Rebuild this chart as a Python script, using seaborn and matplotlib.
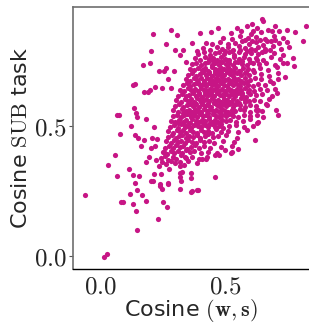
import numpy as np
import pandas as pd
import matplotlib
matplotlib.use("Agg")
import matplotlib.pyplot as plt
import seaborn as sns

# dense core of the cloud
core_x = [
    0.248, 0.262, 0.281, 0.297, 0.318, 0.335, 0.352, 0.386,
    0.243, 0.258, 0.271, 0.289, 0.304, 0.322, 0.341, 0.366, 0.395, 0.428,
    0.252, 0.268, 0.283, 0.296, 0.311, 0.327, 0.344, 0.358, 0.377, 0.402, 0.431, 0.468,
    0.258, 0.274, 0.290, 0.303, 0.317, 0.332, 0.346, 0.362, 0.379, 0.395, 0.414, 0.441, 0.486, 0.527,
    0.264, 0.281, 0.295, 0.309, 0.323, 0.338, 0.351, 0.367, 0.383, 0.398, 0.416, 0.434, 0.457, 0.492, 0.536,
    0.270, 0.286, 0.301, 0.314, 0.327, 0.341, 0.356, 0.371, 0.386, 0.401, 0.418, 0.433, 0.451, 0.472, 0.505, 0.548,
    0.272, 0.290, 0.305, 0.318, 0.332, 0.345, 0.359, 0.373, 0.388, 0.402, 0.416, 0.431, 0.447, 0.464, 0.483, 0.511, 0.552, 0.588,
    0.279, 0.296, 0.311, 0.324, 0.337, 0.350, 0.363, 0.377, 0.390, 0.404, 0.418, 0.432, 0.446, 0.461, 0.477, 0.494, 0.516, 0.543, 0.577, 0.612,
    0.283, 0.300, 0.316, 0.330, 0.343, 0.356, 0.369, 0.382, 0.395, 0.408, 0.421, 0.434, 0.447, 0.460, 0.474, 0.488, 0.503, 0.521, 0.545, 0.572, 0.603, 0.635,
    0.289, 0.305, 0.321, 0.336, 0.349, 0.362, 0.374, 0.387, 0.399, 0.412, 0.425, 0.437, 0.450, 0.463, 0.476, 0.489, 0.503, 0.518, 0.534, 0.553, 0.576, 0.602, 0.628, 0.655,
    0.292, 0.310, 0.327, 0.341, 0.354, 0.367, 0.379, 0.391, 0.403, 0.415, 0.427, 0.439, 0.451, 0.463, 0.475, 0.487, 0.500, 0.513, 0.527, 0.542, 0.559, 0.578, 0.600, 0.624, 0.651,
    0.298, 0.315, 0.331, 0.346, 0.359, 0.372, 0.384, 0.396, 0.408, 0.420, 0.432, 0.444, 0.456, 0.468, 0.480, 0.492, 0.504, 0.517, 0.531, 0.546, 0.562, 0.580, 0.601, 0.626, 0.664,
    0.303, 0.321, 0.337, 0.351, 0.364, 0.377, 0.389, 0.401, 0.413, 0.425, 0.437, 0.449, 0.461, 0.473, 0.485, 0.497, 0.509, 0.521, 0.534, 0.548, 0.563, 0.579, 0.597, 0.618, 0.642, 0.678,
    0.309, 0.327, 0.343, 0.357, 0.370, 0.383, 0.395, 0.407, 0.419, 0.431, 0.443, 0.455, 0.467, 0.479, 0.491, 0.503, 0.515, 0.527, 0.540, 0.554, 0.569, 0.585, 0.603, 0.624, 0.650, 0.688,
    0.318, 0.336, 0.351, 0.365, 0.378, 0.391, 0.403, 0.415, 0.427, 0.439, 0.451, 0.463, 0.475, 0.487, 0.499, 0.511, 0.523, 0.536, 0.550, 0.565, 0.581, 0.598, 0.617, 0.640, 0.668, 0.702,
    0.329, 0.346, 0.361, 0.375, 0.388, 0.401, 0.413, 0.425, 0.437, 0.449, 0.461, 0.473, 0.485, 0.497, 0.509, 0.521, 0.534, 0.547, 0.561, 0.576, 0.593, 0.612, 0.634, 0.661, 0.694,
    0.343, 0.360, 0.375, 0.389, 0.402, 0.415, 0.427, 0.439, 0.451, 0.463, 0.475, 0.487, 0.499, 0.511, 0.524, 0.537, 0.551, 0.566, 0.582, 0.600, 0.621, 0.647, 0.683, 0.715,
    0.352, 0.369, 0.384, 0.398, 0.411, 0.424, 0.436, 0.448, 0.460, 0.472, 0.484, 0.496, 0.508, 0.521, 0.534, 0.548, 0.563, 0.579, 0.597, 0.618, 0.644, 0.676, 0.712,
    0.358, 0.376, 0.392, 0.406, 0.420, 0.433, 0.446, 0.459, 0.472, 0.485, 0.498, 0.511, 0.525, 0.540, 0.556, 0.573, 0.592, 0.614, 0.641, 0.672, 0.708,
    0.366, 0.385, 0.402, 0.418, 0.433, 0.447, 0.461, 0.475, 0.489, 0.503, 0.518, 0.534, 0.551, 0.569, 0.589, 0.612, 0.638, 0.667, 0.701, 0.735,
    0.378, 0.399, 0.418, 0.436, 0.453, 0.469, 0.485, 0.501, 0.518, 0.536, 0.555, 0.576, 0.599, 0.625, 0.654, 0.686, 0.722,
    0.392, 0.416, 0.438, 0.458, 0.477, 0.496, 0.515, 0.535, 0.556, 0.579, 0.604, 0.632, 0.663, 0.697, 0.733,
    0.413, 0.441, 0.466, 0.489, 0.511, 0.533, 0.556, 0.580, 0.606, 0.634, 0.662, 0.693, 0.727, 0.757,
    0.448, 0.481, 0.512, 0.541, 0.569, 0.597, 0.626, 0.655, 0.687, 0.720, 0.752,
    0.492, 0.528, 0.561, 0.593, 0.627, 0.661, 0.698, 0.736,
    0.523, 0.566, 0.604, 0.645, 0.688,
]
core_y = [
    0.361, 0.355, 0.366, 0.358, 0.363, 0.352, 0.368, 0.360,
    0.377, 0.386, 0.372, 0.383, 0.376, 0.388, 0.379, 0.384, 0.374, 0.381,
    0.401, 0.395, 0.407, 0.398, 0.404, 0.396, 0.409, 0.400, 0.405, 0.397, 0.403, 0.399,
    0.418, 0.424, 0.415, 0.427, 0.419, 0.425, 0.414, 0.422, 0.428, 0.417, 0.423, 0.416, 0.421, 0.425,
    0.443, 0.436, 0.447, 0.439, 0.445, 0.437, 0.448, 0.441, 0.435, 0.446, 0.440, 0.444, 0.437, 0.442, 0.439,
    0.458, 0.465, 0.455, 0.462, 0.468, 0.457, 0.464, 0.459, 0.466, 0.456, 0.463, 0.469, 0.458, 0.461, 0.466, 0.457,
    0.481, 0.476, 0.487, 0.479, 0.484, 0.475, 0.486, 0.480, 0.474, 0.485, 0.478, 0.483, 0.476, 0.488, 0.479, 0.482, 0.477, 0.484,
    0.498, 0.504, 0.495, 0.507, 0.499, 0.503, 0.494, 0.506, 0.500, 0.496, 0.505, 0.498, 0.508, 0.497, 0.503, 0.495, 0.501, 0.506, 0.498, 0.502,
    0.521, 0.515, 0.526, 0.518, 0.524, 0.514, 0.527, 0.520, 0.516, 0.525, 0.519, 0.528, 0.517, 0.523, 0.515, 0.526, 0.520, 0.524, 0.516, 0.522, 0.527, 0.518,
    0.538, 0.545, 0.535, 0.542, 0.548, 0.537, 0.544, 0.534, 0.546, 0.539, 0.543, 0.536, 0.547, 0.540, 0.535, 0.544, 0.538, 0.546, 0.541, 0.535, 0.543, 0.539, 0.545, 0.537,
    0.561, 0.555, 0.566, 0.558, 0.564, 0.554, 0.567, 0.560, 0.556, 0.565, 0.559, 0.568, 0.557, 0.563, 0.554, 0.566, 0.560, 0.555, 0.564, 0.558, 0.567, 0.561, 0.556, 0.563, 0.559,
    0.578, 0.585, 0.575, 0.582, 0.587, 0.577, 0.584, 0.574, 0.586, 0.579, 0.583, 0.576, 0.588, 0.580, 0.575, 0.585, 0.578, 0.584, 0.576, 0.587, 0.580, 0.574, 0.583, 0.579, 0.585,
    0.601, 0.595, 0.606, 0.598, 0.604, 0.594, 0.607, 0.600, 0.596, 0.605, 0.599, 0.608, 0.597, 0.603, 0.594, 0.606, 0.600, 0.595, 0.604, 0.598, 0.607, 0.601, 0.596, 0.603, 0.599, 0.605,
    0.618, 0.625, 0.615, 0.622, 0.627, 0.617, 0.624, 0.614, 0.626, 0.619, 0.623, 0.616, 0.628, 0.620, 0.615, 0.625, 0.618, 0.624, 0.616, 0.627, 0.620, 0.614, 0.623, 0.619, 0.625, 0.617,
    0.641, 0.635, 0.646, 0.638, 0.644, 0.634, 0.647, 0.640, 0.636, 0.645, 0.639, 0.648, 0.637, 0.643, 0.634, 0.646, 0.640, 0.635, 0.644, 0.638, 0.647, 0.641, 0.636, 0.643, 0.639, 0.645,
    0.658, 0.665, 0.655, 0.662, 0.667, 0.657, 0.664, 0.654, 0.666, 0.659, 0.663, 0.656, 0.668, 0.660, 0.655, 0.665, 0.658, 0.664, 0.656, 0.667, 0.660, 0.654, 0.663, 0.659, 0.665,
    0.681, 0.675, 0.686, 0.678, 0.684, 0.674, 0.687, 0.680, 0.676, 0.685, 0.679, 0.688, 0.677, 0.683, 0.674, 0.686, 0.680, 0.675, 0.684, 0.678, 0.687, 0.681, 0.676, 0.683,
    0.698, 0.705, 0.695, 0.702, 0.707, 0.697, 0.704, 0.694, 0.706, 0.699, 0.703, 0.696, 0.708, 0.700, 0.695, 0.705, 0.698, 0.704, 0.696, 0.707, 0.700, 0.694, 0.703,
    0.721, 0.715, 0.726, 0.718, 0.724, 0.714, 0.727, 0.720, 0.716, 0.725, 0.719, 0.728, 0.717, 0.723, 0.714, 0.726, 0.720, 0.715, 0.724, 0.718, 0.727,
    0.738, 0.745, 0.735, 0.742, 0.747, 0.737, 0.744, 0.734, 0.746, 0.739, 0.743, 0.736, 0.748, 0.740, 0.735, 0.745, 0.738, 0.744, 0.736, 0.742,
    0.761, 0.755, 0.766, 0.758, 0.764, 0.754, 0.767, 0.760, 0.756, 0.765, 0.759, 0.768, 0.757, 0.763, 0.754, 0.766, 0.760,
    0.778, 0.785, 0.775, 0.782, 0.787, 0.777, 0.784, 0.774, 0.786, 0.779, 0.783, 0.776, 0.788, 0.780, 0.775,
    0.801, 0.795, 0.806, 0.798, 0.804, 0.794, 0.807, 0.800, 0.796, 0.805, 0.799, 0.808, 0.797, 0.803,
    0.818, 0.825, 0.815, 0.822, 0.827, 0.817, 0.824, 0.814, 0.826, 0.819, 0.823,
    0.841, 0.835, 0.846, 0.838, 0.844, 0.834, 0.847, 0.840,
    0.858, 0.865, 0.855, 0.862, 0.867,
]

# extra points that fill the densest part between the rows above
fill_x = [
    0.310, 0.335, 0.360, 0.385, 0.410, 0.435, 0.460, 0.485,
    0.330, 0.355, 0.380, 0.405, 0.430, 0.455, 0.480, 0.505, 0.530,
    0.355, 0.380, 0.405, 0.430, 0.455, 0.480, 0.505, 0.530, 0.555, 0.580,
    0.370, 0.395, 0.420, 0.445, 0.470, 0.495, 0.520, 0.545, 0.570, 0.595,
    0.390, 0.415, 0.440, 0.465, 0.490, 0.515, 0.540, 0.565, 0.590,
    0.410, 0.435, 0.460, 0.485, 0.510, 0.535, 0.560, 0.585,
    0.450, 0.480, 0.510, 0.540, 0.570, 0.600, 0.630,
    0.500, 0.530, 0.560, 0.590, 0.620, 0.650, 0.680,
    0.580, 0.610, 0.640, 0.670, 0.700,
    0.550, 0.590, 0.630, 0.700, 0.610,
]
fill_y = [
    0.511, 0.508, 0.513, 0.509, 0.512, 0.507, 0.514, 0.510,
    0.551, 0.548, 0.553, 0.549, 0.552, 0.547, 0.554, 0.550, 0.549,
    0.591, 0.588, 0.593, 0.589, 0.592, 0.587, 0.594, 0.590, 0.589, 0.592,
    0.631, 0.628, 0.633, 0.629, 0.632, 0.627, 0.634, 0.630, 0.629, 0.632,
    0.671, 0.668, 0.673, 0.669, 0.672, 0.667, 0.674, 0.670, 0.669,
    0.711, 0.708, 0.713, 0.709, 0.712, 0.707, 0.714, 0.710,
    0.751, 0.748, 0.753, 0.749, 0.752, 0.747, 0.754,
    0.791, 0.788, 0.793, 0.789, 0.792, 0.787, 0.794,
    0.831, 0.828, 0.833, 0.829, 0.832,
    0.878, 0.884, 0.876, 0.885, 0.892,
]

# scattered points around the cloud
outer_x = [
    -0.065, 0.013, 0.023, 0.027, 0.056, 0.066, 0.066, 0.073, 0.077, 0.080, 0.087, 0.114,
    0.117, 0.122, 0.128, 0.130, 0.134, 0.130, 0.138, 0.138, 0.138, 0.143, 0.145, 0.141,
    0.145, 0.146, 0.148, 0.153, 0.160, 0.167, 0.171, 0.173, 0.175, 0.180, 0.181, 0.181,
    0.191, 0.196, 0.194, 0.198, 0.200, 0.200, 0.208, 0.202, 0.204, 0.211, 0.214, 0.215,
    0.218, 0.219, 0.224, 0.227, 0.231, 0.235, 0.254, 0.235, 0.239, 0.245, 0.247, 0.249,
    0.254, 0.261, 0.267, 0.269, 0.276, 0.281, 0.282, 0.305, 0.319, 0.321, 0.325, 0.339,
    0.363, 0.388, 0.460, 0.477, 0.523, 0.554, 0.621, 0.473, 0.648, 0.652, 0.749, 0.782,
    0.825, 0.815, 0.780, 0.773, 0.714, 0.706, 0.711, 0.669, 0.634, 0.628, 0.742, 0.749,
    0.719, 0.675, 0.612, 0.298, 0.319, 0.332, 0.262, 0.271, 0.293, 0.399, 0.442, 0.425,
    0.366, 0.386, 0.345, 0.320, 0.320, 0.320, 0.363, 0.363, 0.407, 0.423, 0.458, 0.500,
    0.530, 0.243, 0.238, 0.270, 0.367, 0.390,
]
outer_y = [
    0.235, -0.004, 0.010, 0.351, 0.390, 0.310, 0.543, 0.545, 0.469, 0.209, 0.208, 0.335,
    0.239, 0.501, 0.311, 0.203, 0.571, 0.659, 0.663, 0.284, 0.466, 0.176, 0.103, 0.550,
    0.534, 0.256, 0.457, 0.310, 0.426, 0.235, 0.736, 0.446, 0.633, 0.527, 0.362, 0.213,
    0.633, 0.641, 0.384, 0.743, 0.788, 0.288, 0.290, 0.417, 0.456, 0.853, 0.497, 0.317,
    0.424, 0.650, 0.371, 0.452, 0.142, 0.714, 0.714, 0.349, 0.280, 0.649, 0.258, 0.211,
    0.401, 0.817, 0.191, 0.278, 0.336, 0.872, 0.646, 0.850, 0.258, 0.291, 0.323, 0.384,
    0.249, 0.255, 0.304, 0.388, 0.397, 0.413, 0.448, 0.879, 0.911, 0.903, 0.872, 0.863,
    0.885, 0.829, 0.733, 0.762, 0.543, 0.562, 0.627, 0.581, 0.562, 0.514, 0.689, 0.743,
    0.868, 0.872, 0.866, 0.795, 0.775, 0.795, 0.724, 0.681, 0.711, 0.859, 0.863, 0.820,
    0.820, 0.788, 0.749, 0.347, 0.320, 0.305, 0.320, 0.300, 0.375, 0.375, 0.390, 0.410,
    0.400, 0.318, 0.270, 0.282, 0.250, 0.256,
]

df = pd.DataFrame({
    "cos_ws": core_x + fill_x + outer_x,
    "cos_sub": core_y + fill_y + outer_y,
})

sns.set_theme(style="white")
plt.rcParams["mathtext.fontset"] = "cm"
plt.rcParams["font.family"] = ["DejaVu Sans"]

fig = plt.figure(figsize=(3.09, 3.24), dpi=100)
ax = fig.add_axes([0.236, 0.17, 0.764, 0.808])

sns.scatterplot(data=df, x="cos_ws", y="cos_sub", color="#c71585",
                s=14, linewidth=0, ax=ax)

ax.set_xlim(-0.113, 0.839)
ax.set_ylim(-0.048, 0.958)
ax.set_xticks([0.0, 0.5])
ax.set_xticklabels([r"$0.0$", r"$0.5$"])
ax.set_yticks([0.0, 0.5])
ax.set_yticklabels([r"$0.0$", r"$0.5$"])
ax.tick_params(axis="x", length=0, pad=4, labelsize=18)
ax.tick_params(axis="y", length=3, width=0.8, pad=1.5, labelsize=18, left=True, color="#555555")

ax.set_xlabel(r"Cosine $(\mathbf{w}, \mathbf{s})$", fontsize=16, labelpad=-1)
ax.set_ylabel(r"Cosine $\mathrm{SUB}$ task", fontsize=16, labelpad=2)

ax.spines["right"].set_visible(False)
for side in ["top", "left"]:
    ax.spines[side].set_color("#6e6e6e")
    ax.spines[side].set_linewidth(1.2)
ax.spines["bottom"].set_color("black")
ax.spines["bottom"].set_linewidth(1.0)

fig.savefig("out.png", dpi=100)
